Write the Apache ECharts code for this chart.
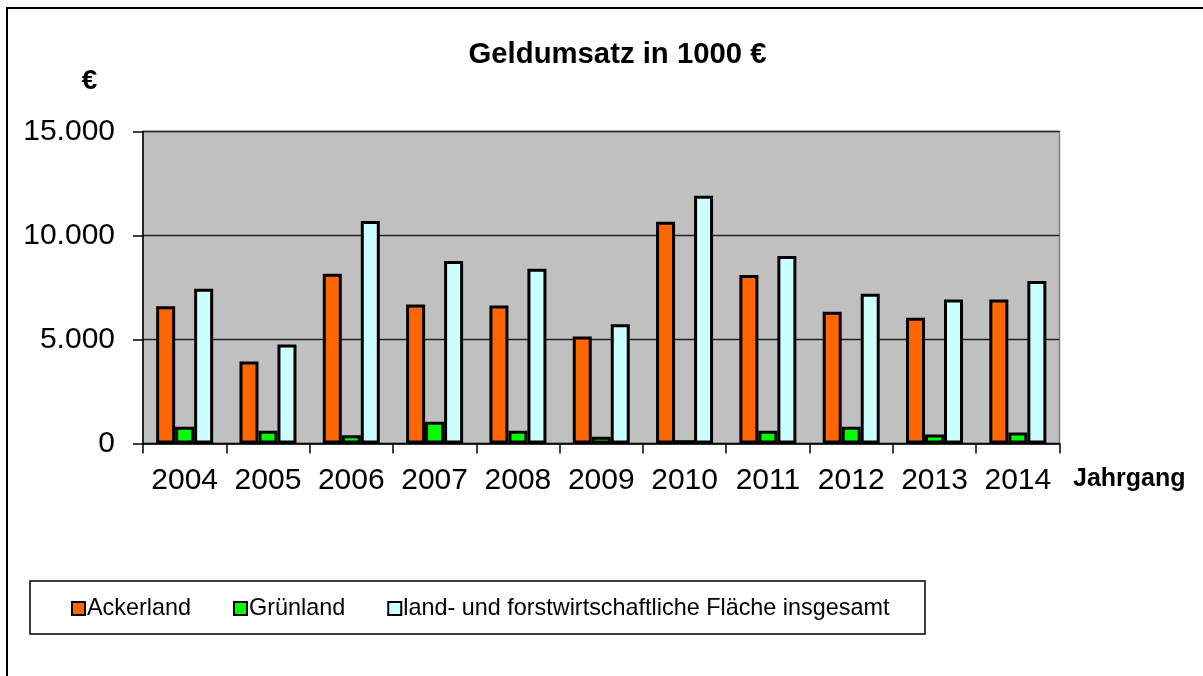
<!DOCTYPE html>
<html>
<head>
<meta charset="utf-8">
<script src="https://cdn.jsdelivr.net/npm/echarts@6/dist/echarts.min.js"></script>
<style>
html,body{margin:0;padding:0;background:#fff;}
#chart{width:1203px;height:676px;}
</style>
</head>
<body>
<div id="chart"></div>
<script>
const years = ['2004','2005','2006','2007','2008','2009','2010','2011','2012','2013','2014'];
const ackerland = [6600, 3940, 8160, 6680, 6630, 5150, 10660, 8100, 6330, 6040, 6920];
const gruenland = [800, 610, 400, 1040, 610, 320, 160, 610, 800, 435, 530];
const insgesamt = [7440, 4760, 10700, 8770, 8400, 5730, 11910, 9010, 7200, 6920, 7810];
const seriesNames = ['Ackerland', 'Grünland', 'land- und forstwirtschaftliche Fläche insgesamt'];
const yTicks = [0, 5000, 10000, 15000];

const FONT = '"Liberation Sans", Arial, sans-serif';
const chart = echarts.init(document.getElementById('chart'), null, {renderer: 'canvas'});

function fmt(v) {
  return String(v).replace(/\B(?=(\d{3})+(?!\d))/g, '.');
}

const barCommon = {
  type: 'bar',
  barWidth: 19,
  barGap: '0%'
};

chart.setOption({
  animation: false,
  backgroundColor: '#ffffff',
  textStyle: {fontFamily: FONT},
  grid: {
    left: 143, top: 131.5, right: 143.5, bottom: 232.5,
    show: true, backgroundColor: '#C0C0C0', borderColor: '#808080', borderWidth: 1.5
  },
  legend: {
    left: 66, top: 592, padding: 5,
    itemWidth: 13, itemHeight: 13, itemGap: 42,
    icon: 'rect',
    data: seriesNames,
    textStyle: {fontFamily: FONT, fontSize: 23.4, color: '#000', padding: [0, 0, 0, -3]}
  },
  xAxis: {
    type: 'category',
    data: years,
    boundaryGap: true,
    axisLine: {lineStyle: {color: '#000', width: 1.5}},
    axisTick: {show: true, interval: 0, length: 10, alignWithLabel: false, lineStyle: {color: '#000', width: 1.5}},
    axisLabel: {interval: 0, fontFamily: FONT, fontSize: 30, color: '#000', margin: 22}
  },
  yAxis: {
    type: 'value',
    min: yTicks[0], max: yTicks[yTicks.length - 1], interval: 5000,
    axisLine: {show: true, lineStyle: {color: '#000', width: 1.5}},
    axisTick: {show: true, length: 10, lineStyle: {color: '#000', width: 1.5}},
    axisLabel: {fontFamily: FONT, fontSize: 30, color: '#000', margin: 28, formatter: fmt},
    splitLine: {show: true, lineStyle: {color: '#222', width: 1.3}}
  },
  series: [
    Object.assign({}, barCommon, {
      name: seriesNames[0], data: ackerland,
      itemStyle: {color: '#FF6600', borderColor: '#000', borderWidth: 3}
    }),
    Object.assign({}, barCommon, {
      name: seriesNames[1], data: gruenland,
      itemStyle: {color: '#00FF00', borderColor: '#000', borderWidth: 3}
    }),
    Object.assign({}, barCommon, {
      name: seriesNames[2], data: insgesamt,
      itemStyle: {color: '#CCFFFF', borderColor: '#000', borderWidth: 3}
    })
  ],
  graphic: [
    {type: 'rect', z: -10, silent: true,
     shape: {x: 7, y: 8, width: 1400, height: 900},
     style: {fill: 'none', stroke: '#000', lineWidth: 2}},
    {type: 'rect', z: -5, silent: true,
     shape: {x: 30, y: 581, width: 895, height: 53},
     style: {fill: '#fff', stroke: '#000', lineWidth: 1.5}},
    {type: 'text', silent: true, x: 617.5, y: 55,
     style: {text: 'Geldumsatz in 1000 €', fill: '#000', font: 'bold 29.3px ' + FONT,
             textAlign: 'center', textVerticalAlign: 'middle'}},
    {type: 'text', silent: true, x: 89.5, y: 81.5,
     style: {text: '€', fill: '#000', font: 'bold 28px ' + FONT,
             textAlign: 'center', textVerticalAlign: 'middle'}},
    {type: 'text', silent: true, x: 1073, y: 479,
     style: {text: 'Jahrgang', fill: '#000', font: 'bold 25px ' + FONT,
             textAlign: 'left', textVerticalAlign: 'middle'}}
  ]
});
</script>
</body>
</html>
